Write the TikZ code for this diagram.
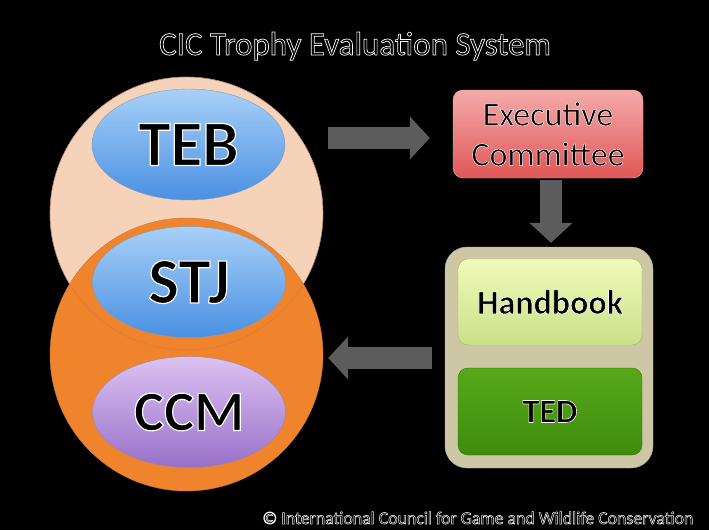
\documentclass[tikz,border=0pt]{standalone}
\usepackage{fontspec}
\setmainfont{Carlito}
\usetikzlibrary{arrows.meta,shapes.geometric,calc}

\definecolor{peachfill}{HTML}{F5D2B8}
\definecolor{peachline}{HTML}{A8AEC4}
\definecolor{orangefill}{HTML}{F0842C}
\definecolor{orangeline}{HTML}{C8784A}
\definecolor{bluetop}{HTML}{A8D0F8}
\definecolor{bluebot}{HTML}{4A90E2}
\definecolor{blueline}{HTML}{7C9CC4}
\definecolor{purpletop}{HTML}{DCC2F2}
\definecolor{purplebot}{HTML}{9870C8}
\definecolor{purpleline}{HTML}{9A86A8}
\definecolor{redtop}{HTML}{F5AAAA}
\definecolor{redbot}{HTML}{E05656}
\definecolor{limetop}{HTML}{F2FAB8}
\definecolor{limebot}{HTML}{C9E08A}
\definecolor{greentop}{HTML}{58A81A}
\definecolor{greenbot}{HTML}{3E8C0C}
\definecolor{tanfill}{HTML}{CEC7A6}
\definecolor{arrowgray}{HTML}{5C5C5C}

% black text with a white outline
\newcommand{\outlined}[2][1.2]{\special{pdf:literal direct 2 Tr #1 w 1 1 1 RG}#2\special{pdf:literal direct 0 Tr}}

\tikzset{
  circ/.style={circle, minimum size=273pt, inner sep=0pt},
  oval/.style={ellipse, minimum width=193pt, minimum height=111pt, inner sep=0pt,
    font=\bfseries\fontsize{65}{65}\selectfont},
  blueoval/.style={oval, top color=bluetop, bottom color=bluebot, draw=blueline},
  card/.style={rectangle, rounded corners=10pt, minimum width=184pt, minimum height=86pt,
    inner sep=0pt, font=\fontsize{34}{40}\selectfont, align=center},
  blockarrow/.style={draw=arrowgray, line width=22pt, -{Triangle[width=42pt,length=20pt]}}
}

\begin{document}
\begin{tikzpicture}[x=1pt,y=-1pt]
% Background
\fill[black] (0,0) rectangle (709,530);
\useasboundingbox (0,0) rectangle (709,530);

% Title and credit
\node[anchor=base, font=\fontsize{33}{33}\selectfont] (title) at (355,55)
  {\outlined[0.7]{CIC Trophy Evaluation System}};
\node[anchor=base east, font=\fontsize{17.8}{17.8}\selectfont] (credit) at (697,524)
  {\outlined[0.5]{© International Council for Game and Wildlife Conservation}};

% Overlapping circles
\node[circ, fill=peachfill, draw=peachline] (topcirc) at (186.5,213.5) {};
\node[circ, fill=orangefill, draw=orangeline] (ccmcirc) at (186.5,354.5) {};
\draw[orangeline, opacity=0.8] (topcirc.center) circle (136.5);

% Ovals
\node[blueoval] (teb) at (188.5,144.5) {\outlined{TEB}};
\node[blueoval] (stj) at (189,282) {\outlined{STJ}};
\node[oval, top color=purpletop, bottom color=purplebot, draw=purpleline,
  font=\bfseries\fontsize{57}{57}\selectfont] (ccm) at (189,412) {\outlined{CCM}};

% Right side boxes
\node[card, minimum width=190pt, minimum height=88pt, top color=redtop, bottom color=redbot,
  draw=redtop] (exec) at (548,134) {\outlined[0.5]{Executive}\\\outlined[0.5]{Committee}};
\node[rectangle, rounded corners=22pt, minimum width=208pt, minimum height=221pt,
  fill=tanfill, draw=peachline] (box) at (549,357.5) {};
\node[card, top color=limetop, bottom color=limebot, draw=limebot!80!black,
  font=\bfseries\fontsize{34}{34}\selectfont] (handbook) at (550,302) {\outlined[0.6]{Handbook}};
\node[card, minimum height=87pt, top color=greentop, bottom color=greenbot, draw=greenbot!80!black,
  font=\bfseries\fontsize{34}{34}\selectfont] (ted) at (550,411.5) {\outlined[0.6]{TED}};

% Block arrows
\draw[blockarrow] ($(topcirc.east |- exec.west)+(5,4)$) -- ($(exec.west)+(-23,4)$);
\draw[blockarrow] ($(exec.south)+(3,2)$) -- ($(box.north)+(2,-4)$);
\draw[blockarrow] ($(box.west)+(-13,0.5)$) -- ($(ccmcirc.east |- box.west)+(5,0.5)$);

\end{tikzpicture}
\end{document}
